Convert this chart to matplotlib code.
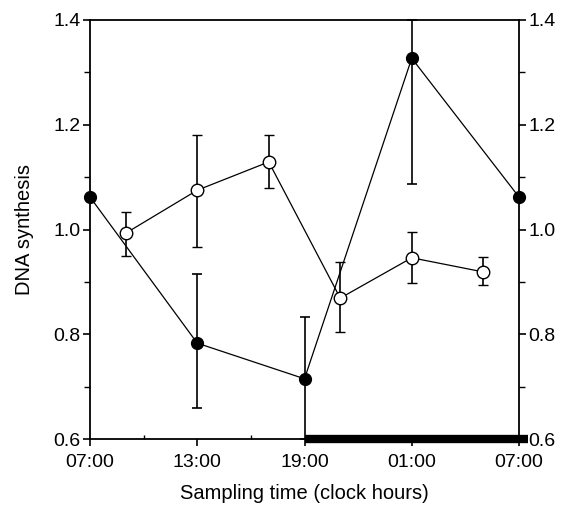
import matplotlib.pyplot as plt
from matplotlib.ticker import MultipleLocator

plt.rcParams['font.family'] = ['Liberation Sans', 'DejaVu Sans']

# hours after 07:00
filled_t = [0, 6, 12, 18, 24]
filled_y = [1.062, 0.783, 0.715, 1.327, 1.062]
filled_lo = [0.0, 0.124, 0.115, 0.240, 0.0]
filled_hi = [0.0, 0.132, 0.117, 0.073, 0.0]

open_t = [2, 6, 10, 14, 18, 22]
open_y = [0.993, 1.075, 1.129, 0.869, 0.946, 0.919]
open_lo = [0.044, 0.108, 0.050, 0.065, 0.048, 0.025]
open_hi = [0.040, 0.105, 0.051, 0.069, 0.049, 0.029]

tick_pos = [0, 6, 12, 18, 24]
tick_labels = ["07:00", "13:00", "19:00", "01:00", "07:00"]
dark_start, dark_end = 12, 24

fig = plt.figure(figsize=(5.62, 5.08), dpi=100)
ax = fig.add_axes([90 / 562, 1 - 439 / 508, 429 / 562, 419 / 508])

ax.errorbar(filled_t, filled_y, yerr=[filled_lo, filled_hi], fmt='-o', color='black',
            mfc='black', mec='black', ms=8.5, lw=0.9, elinewidth=1.2, capsize=3.5,
            capthick=1.2, clip_on=False, zorder=3)
ax.errorbar(open_t, open_y, yerr=[open_lo, open_hi], fmt='-o', color='black',
            mfc='white', mec='black', ms=9, lw=0.9, mew=1.0, elinewidth=1.2, capsize=3.5,
            capthick=1.2, zorder=4)

# dark period bar
ax.plot([dark_start, dark_end + 0.5], [0.6, 0.6], color='black', lw=6,
        solid_capstyle='butt', clip_on=False, zorder=5)

ax.set_xlim(0, 24)
ax.set_ylim(0.6, 1.4)
ax.set_xticks(tick_pos)
ax.set_xticklabels(tick_labels)
ax.xaxis.set_minor_locator(MultipleLocator(3))
ax.set_yticks([0.6, 0.8, 1.0, 1.2, 1.4])
ax.yaxis.set_minor_locator(MultipleLocator(0.1))
ax.tick_params(axis='both', labelsize=14, direction='out', length=5, width=1.2)
ax.tick_params(axis='y', which='both', right=True, labelright=True, pad=2)
ax.tick_params(axis='y', which='minor', length=4, width=1.0)
ax.tick_params(axis='x', which='minor', direction='in', length=3, width=1.0)
ax.tick_params(axis='x', pad=6)
for s in ax.spines.values():
    s.set_linewidth(1.3)

ax.set_ylabel("DNA synthesis", fontsize=14.5, labelpad=14)
ax.set_xlabel("Sampling time (clock hours)", fontsize=14.5, labelpad=9)

fig.savefig("out.png", dpi=100)
